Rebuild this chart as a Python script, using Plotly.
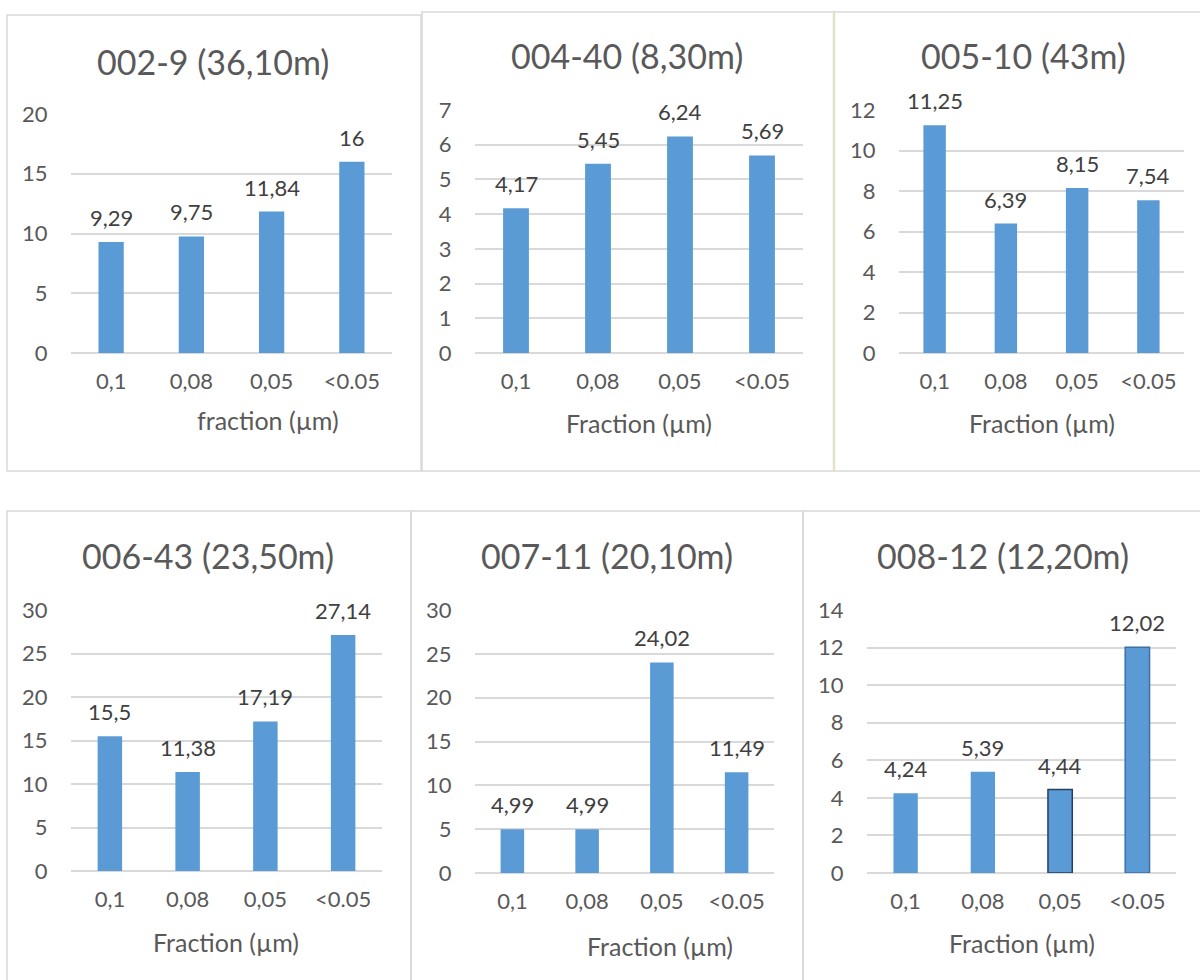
import plotly.graph_objects as go

# Fractions (µm) shared by every sample
fractions = ["0,1", "0,08", "0,05", "<0.05"]

# Sample titles and measured values per fraction
titles = [
    "002-9 (36,10m)",
    "004-40 (8,30m)",
    "005-10 (43m)",
    "006-43 (23,50m)",
    "007-11 (20,10m)",
    "008-12 (12,20m)",
]
values_002_9 = [9.29, 9.75, 11.84, 16]
values_004_40 = [4.17, 5.45, 6.24, 5.69]
values_005_10 = [11.25, 6.39, 8.15, 7.54]
values_006_43 = [15.5, 11.38, 17.19, 27.14]
values_007_11 = [4.99, 4.99, 24.02, 11.49]
values_008_12 = [4.24, 5.39, 4.44, 12.02]
series = [values_002_9, values_004_40, values_005_10,
          values_006_43, values_007_11, values_008_12]

# Axis ranges and tick steps
y_max = [20, 7, 12, 30, 30, 14]
y_step = [5, 1, 2, 5, 5, 2]
x_titles = ["fraction (µm)", "Fraction (µm)", "Fraction (µm)",
            "Fraction (µm)", "Fraction (µm)", "Fraction (µm)"]

W, H = 1200, 980
FONT = "Lato"
BAR = "#5B9BD5"
GRID = "#D9D9D9"
TXT = "#595959"
LBL = "#404040"

# Pixel layout of each panel: frame box, plot box, title and axis-title centres
frames = [(7, 15, 421, 471), (422, 12, 834, 471), (834, 12, 1210, 471),
          (7, 511, 411, 990), (411, 511, 803, 990), (803, 511, 1210, 990)]
plots = [(71, 114, 392, 353), (475, 110, 803, 353), (899, 110, 1184, 353),
         (71, 610, 382, 871), (475, 610, 774, 873), (867, 610, 1176, 873)]
title_pos = [(213, 62), (627, 55), (1023, 55), (208, 555), (607, 555), (1003, 555)]
xtitle_pos = [(268, 420), (639, 423), (1042, 423), (226, 942), (660, 946), (1022, 943)]

# Outline on individual bars (last panel has two outlined bars)
outline_colors = [None, None, None, None, None,
                  ["rgba(0,0,0,0)", "rgba(0,0,0,0)", "#25405F", "#3E70A8"]]
outline_widths = [0, 0, 0, 0, 0, [0, 0, 1.5, 1.5]]


def px(x):
    return x / W


def py(y):
    return 1 - y / H


fig = go.Figure()
layout = {}
annotations = []
shapes = []

for i, vals in enumerate(series):
    n = i + 1
    xa = "x" if n == 1 else f"x{n}"
    ya = "y" if n == 1 else f"y{n}"
    line = dict(width=0)
    if outline_colors[i] is not None:
        line = dict(color=outline_colors[i], width=outline_widths[i])
    fig.add_trace(go.Bar(
        x=fractions, y=vals, xaxis=xa, yaxis=ya,
        marker=dict(color=BAR, line=line),
        width=0.315, showlegend=False, hoverinfo="x+y",
    ))
    # value labels above each bar
    for cat, v in zip(fractions, vals):
        annotations.append(dict(
            x=cat, y=v, xref=xa, yref=ya, text=f"{v:g}".replace(".", ","),
            showarrow=False, yanchor="bottom", yshift=9,
            font=dict(family=FONT, size=22, color=LBL),
        ))

    x0, y0, x1, y1 = plots[i]
    layout[f"xaxis{n}" if n > 1 else "xaxis"] = dict(
        domain=[px(x0), px(x1)], anchor=ya, type="category", automargin=False,
        showgrid=False, showline=False, zeroline=False,
        ticks="outside", ticklen=9, tickcolor="rgba(0,0,0,0)",
        tickfont=dict(family=FONT, size=22, color=TXT), fixedrange=True,
    )
    layout[f"yaxis{n}" if n > 1 else "yaxis"] = dict(
        domain=[py(y1), py(y0)], anchor=xa, range=[0, y_max[i]], automargin=False,
        dtick=y_step[i], tick0=0, showgrid=True, gridcolor=GRID, gridwidth=1.5,
        zeroline=True, zerolinecolor=GRID, zerolinewidth=1.5, showline=False,
        ticks="outside", ticklen=18, tickcolor="rgba(0,0,0,0)",
        tickfont=dict(family=FONT, size=22, color=TXT), fixedrange=True,
    )

    tx, ty = title_pos[i]
    annotations.append(dict(
        x=px(tx), y=py(ty), xref="paper", yref="paper", text=titles[i],
        showarrow=False, xanchor="center", yanchor="middle",
        font=dict(family=FONT, size=34, color=TXT),
    ))
    ax, ay = xtitle_pos[i]
    annotations.append(dict(
        x=px(ax), y=py(ay), xref="paper", yref="paper", text=x_titles[i],
        showarrow=False, xanchor="center", yanchor="middle",
        font=dict(family=FONT, size=25, color=TXT),
    ))

    fx0, fy0, fx1, fy1 = frames[i]
    shapes.append(dict(
        type="rect", xref="paper", yref="paper",
        x0=px(fx0), x1=px(fx1), y0=py(fy1), y1=py(fy0),
        line=dict(color=GRID, width=1.5), fillcolor="rgba(0,0,0,0)", layer="below",
    ))

# divider between the two upper-right panels
shapes.append(dict(
    type="line", xref="paper", yref="paper",
    x0=px(834), x1=px(834), y0=py(471), y1=py(12),
    line=dict(color="#E4E2C4", width=2.5),
))

fig.update_layout(
    width=W, height=H, margin=dict(l=0, r=0, t=0, b=0, autoexpand=False),
    paper_bgcolor="white", plot_bgcolor="white",
    bargap=0.685, annotations=annotations, shapes=shapes,
    **layout,
)

fig.write_html("out.html")
